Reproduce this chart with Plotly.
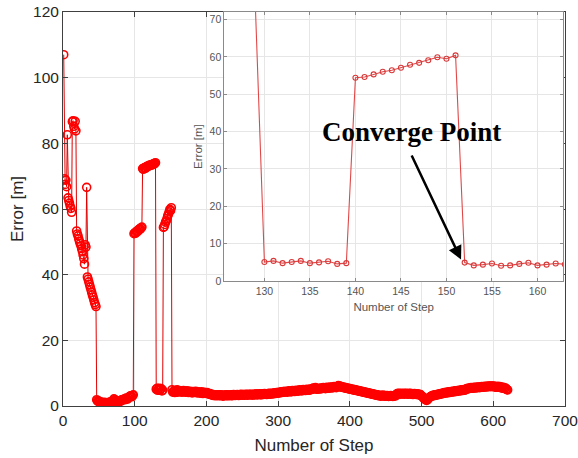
import plotly.graph_objects as go

# ---- data ----
error_start = [107.0, 69.2, 67.5, 68.8, 66.8, 82.6, 63.4, 62.6, 61.8, 60.9,
               60.2, 59.0, 86.6, 86.9, 85.2, 84.4, 86.7, 83.8, 53.3, 52.4,
               51.8, 50.9, 50.1, 49.4, 48.8, 47.9, 47.1, 46.0, 44.9, 43.2,
               49.1, 48.4, 66.6, 39.3, 38.6, 37.8, 37.0, 36.2, 35.4, 34.6,
               33.8, 33.1, 32.3, 31.5, 30.9, 30.3, 1.9]
error_low = [1.6, 1.4, 1.5, 1.2, 1.3, 1.0, 1.1, 0.9, 1.0, 0.8,
             1.1, 0.9, 1.0, 0.6, 0.2, 0.9, 1.1, 1.0, 1.2, 1.3,
             1.1, 1.4, 1.6, 2.2, 2.0, 1.7, 1.5, 1.4, 1.2, 1.3,
             1.5, 1.6, 1.4, 1.7, 1.9, 1.8, 2.0, 2.1, 1.9, 2.2,
             2.4, 2.3, 2.1, 2.5, 2.7, 2.9, 3.1, 3.0, 2.8, 3.2, 3.4]
error_jump1 = [52.5, 52.7, 52.6, 53.0, 53.3, 53.1, 53.5, 53.8, 54.0, 53.9, 54.3, 54.5]
error_jump2 = [72.3, 72.1, 72.5, 72.6, 72.4, 72.8, 73.0, 72.9, 73.1, 73.3,
               73.2, 73.4, 73.5, 73.4, 73.6, 73.8, 73.7, 73.9, 74.1]
error_dip = [5.1, 5.4, 4.8, 5.1, 5.4, 4.8, 5.0, 5.3, 4.6, 4.8]
error_jump3 = [54.4, 54.6, 55.3, 56.0, 56.4, 57.1, 57.9, 58.4, 59.1, 59.9, 59.5, 60.4]
error_converged = [4.95, 4.2, 4.4, 4.7, 4.1, 4.2, 4.6, 4.9, 4.2, 4.4, 4.7]
error_tail = [
    4.5, 4.3, 4.6, 4.2, 4.4, 4.7, 4.3, 4.5, 4.2, 4.4,
    4.6, 4.3, 4.1, 4.4, 4.5, 4.2, 4.3, 4.0, 4.4, 4.2,
    4.1, 4.3, 4.5, 4.2, 4.0, 4.3, 4.1, 4.2, 3.9, 4.1,
    4.3, 4.0, 3.8, 4.1, 4.2, 3.9, 4.0, 3.8, 4.1, 3.9,
    3.7, 3.6, 3.8, 3.5, 3.4, 3.6, 3.3, 3.2, 3.4, 3.3,
    3.1, 3.3, 3.2, 3.4, 3.3, 3.1, 3.2, 3.4, 3.3, 3.2,
    3.0, 3.2, 3.3, 3.1, 3.3, 3.4, 3.2, 3.1, 3.3, 3.2,
    3.4, 3.3, 3.1, 3.2, 3.4, 3.5, 3.3, 3.2, 3.4, 3.3,
    3.5, 3.4, 3.2, 3.3, 3.5, 3.4, 3.6, 3.3, 3.4, 3.5,
    3.3, 3.4, 3.6, 3.5, 3.3, 3.4, 3.6, 3.5, 3.4, 3.6,
    3.5, 3.3, 3.5, 3.6, 3.4, 3.5, 3.7, 3.5, 3.4, 3.6,
    3.5, 3.7, 3.6, 3.4, 3.6, 3.7, 3.5, 3.6, 3.8, 3.6,
    3.7, 3.5, 3.6, 3.8, 3.7, 3.9, 3.6, 3.7, 3.9, 3.8,
    3.7, 3.9, 4.0, 3.8, 3.9, 4.1, 3.9, 4.0, 4.2, 4.0,
    4.1, 4.3, 4.1, 4.2, 4.4, 4.2, 4.3, 4.5, 4.3, 4.4,
    4.2, 4.4, 4.6, 4.4, 4.5, 4.3, 4.5, 4.7, 4.5, 4.6,
    4.4, 4.6, 4.8, 4.6, 4.7, 4.5, 4.7, 4.9, 4.7, 4.8,
    4.6, 4.8, 5.0, 4.8, 4.9, 4.7, 4.9, 5.1, 4.9, 5.0,
    4.8, 5.0, 5.2, 5.0, 5.1, 5.3, 5.5, 5.2, 5.4, 5.6,
    5.3, 5.1, 5.3, 5.2, 5.4, 5.2, 5.3, 5.5, 5.3, 5.4,
    5.6, 5.4, 5.5, 5.3, 5.5, 5.7, 5.5, 5.6, 5.4, 5.6,
    5.8, 5.6, 5.7, 5.5, 5.7, 5.9, 5.7, 5.8, 5.6, 5.8,
    6.0, 6.2, 5.9, 6.1, 5.8, 5.9, 5.7, 5.8, 5.6, 5.7,
    5.5, 5.6, 5.4, 5.5, 5.3, 5.4, 5.2, 5.3, 5.1, 5.2,
    5.0, 5.1, 4.9, 5.0, 4.8, 4.9, 4.7, 4.8, 4.6, 4.7,
    4.5, 4.6, 4.4, 4.5, 4.3, 4.4, 4.2, 4.3, 4.1, 4.2,
    4.0, 4.1, 3.9, 4.0, 3.8, 3.9, 3.7, 3.8, 3.6, 3.7,
    3.5, 3.6, 3.4, 3.5, 3.3, 3.4, 3.2, 3.3, 3.1, 3.2,
    3.0, 3.2, 3.1, 3.3, 3.1, 3.0, 3.2, 3.1, 3.0, 3.2,
    3.1, 2.9, 3.1, 3.0, 3.2, 3.0, 3.1, 2.9, 3.1, 3.0,
    3.2, 3.1, 3.6, 3.8, 3.7, 3.9, 3.8, 3.6, 3.8, 3.7,
    3.9, 3.7, 3.8, 3.6, 3.8, 3.9, 3.7, 3.8, 3.6, 3.7,
    3.9, 3.8, 3.6, 3.8, 3.7, 3.5, 3.7, 3.8, 3.6, 3.7,
    3.5, 3.7, 3.6, 3.4, 3.6, 3.5, 3.3, 3.1, 2.9, 2.6,
    2.4, 2.2, 2.0, 1.9, 1.7, 1.9, 2.1, 2.4, 2.6, 2.8,
    2.9, 3.0, 3.2, 3.1, 3.3, 3.2, 3.4, 3.3, 3.5, 3.4,
    3.6, 3.5, 3.7, 3.6, 3.8, 3.7, 3.9, 3.8, 4.0, 4.1,
    3.9, 4.1, 4.2, 4.0, 4.2, 4.3, 4.1, 4.3, 4.4, 4.2,
    4.4, 4.5, 4.3, 4.5, 4.6, 4.4, 4.6, 4.7, 4.5, 4.7,
    4.8, 4.6, 4.8, 4.9, 4.7, 4.9, 5.0, 4.8, 5.0, 5.1,
    5.3, 5.2, 5.4, 5.3, 5.5, 5.4, 5.6, 5.5, 5.4, 5.6,
    5.5, 5.7, 5.6, 5.5, 5.7, 5.6, 5.8, 5.7, 5.6, 5.8,
    5.7, 5.9, 5.8, 5.7, 5.9, 5.8, 6.0, 5.9, 5.8, 6.0,
    5.9, 6.1, 6.0, 5.9, 6.1, 6.0, 5.9, 6.1, 6.0, 5.8,
    5.9, 5.7, 5.8, 6.0, 5.8, 5.7, 5.9, 5.6, 5.8, 5.5,
    5.7, 5.4, 5.6, 5.3, 5.5, 5.2, 5.0, 4.9]

error = (error_start + error_low + error_jump1 + error_jump2 + error_dip
         + error_jump3 + error_converged + error_tail)
steps = list(range(1, len(error) + 1))

main_xticks = [0, 100, 200, 300, 400, 500, 600, 700]
main_yticks = [0, 20, 40, 60, 80, 100, 120]
inset_xticks = [130, 135, 140, 145, 150, 155, 160]
inset_yticks = [0, 10, 20, 30, 40, 50, 60, 70]
converge_step, converge_err = 152, 4.95

# ---- figure ----
fig = go.Figure()
fig.add_trace(go.Scatter(
    x=steps, y=error, mode="lines+markers", showlegend=False,
    line=dict(color="#e00000", width=1),
    marker=dict(symbol="circle-open", size=8, color="#ff0000", line=dict(width=1.6)),
    xaxis="x", yaxis="y"))
fig.add_trace(go.Scatter(
    x=steps, y=error, mode="lines+markers", showlegend=False,
    line=dict(color="#e04848", width=1.1),
    marker=dict(symbol="circle-open", size=5, color="#d83a3a", line=dict(width=1.1)),
    xaxis="x2", yaxis="y2"))

font_main = "Liberation Sans, Arial, sans-serif"
axis_main = dict(showline=True, linecolor="#404040", linewidth=1, mirror="ticks",
                 ticks="inside", ticklen=5, tickcolor="#404040", automargin=False,
                 ticklabeloverflow="allow",
                 showgrid=True, gridcolor="#e6e6e6", gridwidth=1, zeroline=False,
                 tickfont=dict(family=font_main, size=15.5, color="#262626"))
axis_inset = dict(showline=True, linecolor="#8a8a8a", linewidth=1, mirror="ticks",
                  ticks="inside", ticklen=3, tickcolor="#8a8a8a", automargin=False,
                  ticklabeloverflow="allow",
                  showgrid=True, gridcolor="#e6e6e6", gridwidth=1, zeroline=False,
                  tickfont=dict(family=font_main, size=10.5, color="#555555"))

fig.update_layout(
    width=578, height=458,
    margin=dict(l=63, r=13, t=12, b=52, autoexpand=False),
    paper_bgcolor="white", plot_bgcolor="white",
    xaxis=dict(axis_main, range=[0, 700], tickvals=main_xticks, domain=[0, 1],
               title=dict(text="Number of Step", standoff=11,
                          font=dict(family=font_main, size=17, color="#262626"))),
    yaxis=dict(axis_main, range=[0, 120], tickvals=main_yticks, domain=[0, 1],
               title=dict(text="Error [m]", standoff=5,
                          font=dict(family=font_main, size=17, color="#262626"))),
    xaxis2=dict(axis_inset, range=[125.6, 162.8], tickvals=inset_xticks,
                domain=[0.3214, 0.996], anchor="y2",
                title=dict(text="Number of Step", standoff=7,
                           font=dict(family=font_main, size=11.5, color="#555555"))),
    yaxis2=dict(axis_inset, range=[0, 72], tickvals=inset_yticks,
                domain=[0.317, 1.0], anchor="x2",
                title=dict(text="Error [m]", standoff=4,
                           font=dict(family=font_main, size=11.5, color="#555555"))),
)

# opaque background of the inset (drawn under inset grid, over main plot)
fig.add_shape(type="rect", xref="x2 domain", yref="y2 domain",
              x0=0, x1=1, y0=0, y1=1, fillcolor="white",
              line=dict(width=0), layer="below")

fig.add_annotation(x=146.2, y=40, xref="x2", yref="y2", showarrow=False,
                   text="<b>Converge Point</b>",
                   font=dict(family="Liberation Serif, Times New Roman, serif",
                             size=27, color="black"))
fig.add_annotation(x=converge_step - 0.4, y=converge_err + 0.8, xref="x2", yref="y2",
                   ax=146.1, ay=34.0, axref="x2", ayref="y2", text="",
                   showarrow=True, arrowhead=2, arrowsize=1.1, arrowwidth=2.5,
                   arrowcolor="black")

# remove the default 8px page margin so the figure fills the window exactly
fig.write_html("out.html", config={"displayModeBar": False},
               post_script="document.body.style.margin='0';")
